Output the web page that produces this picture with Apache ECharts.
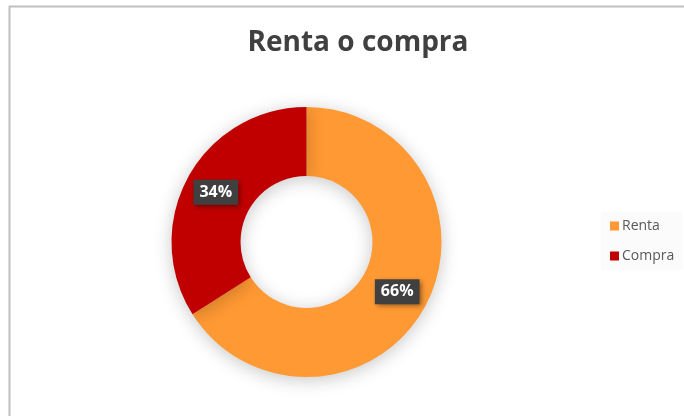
<!DOCTYPE html>
<html>
<head>
<meta charset="utf-8">
<script src="https://cdn.jsdelivr.net/npm/echarts@6/dist/echarts.min.js"></script>
<style>
html,body{margin:0;padding:0;background:#fff;}
#chart{width:684px;height:416px;}
</style>
</head>
<body>
<div id="chart"></div>
<script>
const titleText = 'Renta o compra';
const categories = ['Renta', 'Compra'];
const values = [66, 34];
const colors = ['#FF9933', '#C00000'];

const chart = echarts.init(document.getElementById('chart'), null, {renderer: 'canvas'});
chart.setOption({
  backgroundColor: '#ffffff',
  animation: false,
  title: {
    text: titleText,
    left: 353,
    textAlign: 'center',
    top: 24,
    textStyle: {fontFamily: 'Open Sans', fontWeight: 'bold', fontSize: 28, color: '#404040'}
  },
  graphic: [{
    type: 'rect',
    shape: {x: 9.5, y: 6.5, width: 700, height: 430},
    style: {fill: 'none', stroke: '#bfbfbf', lineWidth: 2},
    silent: true, z: -1
  }],
  legend: {
    orient: 'vertical',
    left: 601,
    top: 212,
    padding: [7, 8, 7, 9],
    backgroundColor: '#fbfbfb',
    icon: 'rect',
    itemWidth: 9,
    itemHeight: 9,
    itemGap: 16,
    data: categories,
    textStyle: {fontFamily: 'Open Sans', fontSize: 14, color: '#595959', padding: [0, 0, 0, -2]}
  },
  series: [{
    type: 'pie',
    center: [306.5, 242],
    radius: [66, 135],
    startAngle: 90,
    clockwise: true,
    avoidLabelOverlap: false,
    itemStyle: {shadowBlur: 18, shadowColor: 'rgba(0,0,0,0.22)', shadowOffsetY: 3},
    label: {
      show: true,
      position: 'inside',
      formatter: (p) => p.value + '%',
      backgroundColor: '#404040',
      color: '#ffffff',
      fontFamily: 'Open Sans',
      fontWeight: 'bold',
      fontSize: 16,
      lineHeight: 18,
      padding: [4, 6, 3, 6],
      shadowBlur: 5,
      shadowColor: 'rgba(0,0,0,0.45)',
      shadowOffsetX: 2,
      shadowOffsetY: 2
    },
    labelLine: {show: false},
    emphasis: {disabled: true},
    data: categories.map((c, i) => ({name: c, value: values[i], itemStyle: {color: colors[i]}}))
  }]
});
</script>
</body>
</html>
